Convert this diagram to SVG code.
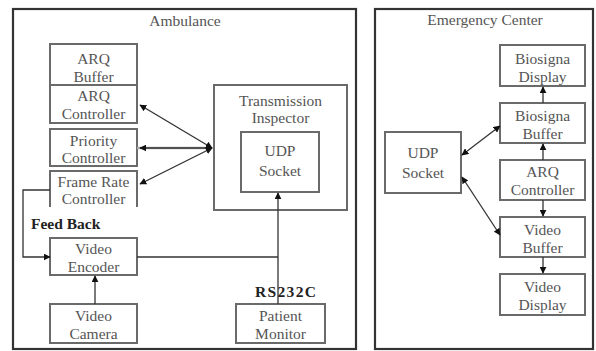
<svg xmlns="http://www.w3.org/2000/svg" width="596" height="351" viewBox="0 0 596 351">
<defs>
<marker id="ah" viewBox="0 0 10 10" refX="9" refY="5" markerWidth="7" markerHeight="7" orient="auto-start-reverse" markerUnits="userSpaceOnUse">
<path d="M0,0 L10,5 L0,10 z" fill="#111"/>
</marker>
<style>
.frame{fill:#fff;stroke:#333;stroke-width:2.2}
.box{fill:#fff;stroke:#6a6a6a;stroke-width:2}
text{font-family:"Liberation Serif","Times New Roman",serif}
.t{font-size:15.5px;fill:#555;text-anchor:middle}
.b{font-size:15.5px;font-weight:bold;fill:#222}
.ln{fill:none;stroke:#333;stroke-width:1.3}
.gl{fill:none;stroke:#aaa;stroke-width:2.5}
</style>
</defs>
<rect width="596" height="351" fill="#fff"/>
<g id="ambulance">
<rect class="frame" x="13" y="9" width="343" height="340"/>
<text class="t" x="185" y="26">Ambulance</text>
</g>
<g id="emergency-center">
<rect class="frame" x="375" y="9" width="218" height="340"/>
<text class="t" x="485" y="25">Emergency Center</text>
</g>
<g id="arq-buffer">
<rect class="box" x="50" y="44" width="87" height="41"/>
<text class="t" x="93.5" y="64">ARQ</text>
<text class="t" x="93.5" y="82">Buffer</text>
</g>
<g id="arq-controller">
<rect class="box" x="50" y="85" width="87" height="38"/>
<text class="t" x="93.5" y="101">ARQ</text>
<text class="t" x="93.5" y="119">Controller</text>
</g>
<g id="priority-controller">
<rect class="box" x="50" y="129" width="87" height="37"/>
<text class="t" x="93.5" y="146">Priority</text>
<text class="t" x="93.5" y="163">Controller</text>
</g>
<g id="frame-rate-controller">
<path class="box" d="M50,207 L50,171 L137,171 L137,207"/>
<text class="t" x="93.5" y="187">Frame Rate</text>
<text class="t" x="93.5" y="204">Controller</text>
</g>
<g id="video-encoder">
<rect class="box" x="50" y="238" width="87" height="37"/>
<text class="t" x="93.5" y="254">Video</text>
<text class="t" x="93.5" y="272">Encoder</text>
</g>
<g id="video-camera">
<rect class="box" x="50" y="304" width="87" height="39"/>
<text class="t" x="93.5" y="321">Video</text>
<text class="t" x="93.5" y="339">Camera</text>
</g>
<g id="transmission-inspector">
<rect class="box" x="214" y="85" width="133" height="125"/>
<text class="t" x="280.5" y="106">Transmission</text>
<text class="t" x="280.5" y="123">Inspector</text>
</g>
<g id="udp-socket-a">
<rect class="box" x="241" y="132" width="78" height="60"/>
<text class="t" x="280" y="156">UDP</text>
<text class="t" x="280" y="176">Socket</text>
</g>
<g id="patient-monitor">
<rect class="box" x="236" y="304" width="89" height="39"/>
<text class="t" x="280.5" y="321">Patient</text>
<text class="t" x="280.5" y="339">Monitor</text>
</g>
<g id="udp-socket-b">
<rect class="box" x="385" y="132" width="76" height="61"/>
<text class="t" x="423" y="158">UDP</text>
<text class="t" x="423" y="178">Socket</text>
</g>
<g id="biosignal-display">
<rect class="box" x="500" y="45" width="85" height="41"/>
<text class="t" x="542.5" y="64">Biosigna</text>
<text class="t" x="542.5" y="82">Display</text>
</g>
<g id="biosignal-buffer">
<rect class="box" x="500" y="103" width="85" height="40"/>
<text class="t" x="542.5" y="121">Biosigna</text>
<text class="t" x="542.5" y="139">Buffer</text>
</g>
<g id="arq-controller-b">
<rect class="box" x="500" y="160" width="85" height="40"/>
<text class="t" x="542.5" y="177">ARQ</text>
<text class="t" x="542.5" y="195">Controller</text>
</g>
<g id="video-buffer">
<rect class="box" x="500" y="217" width="85" height="40"/>
<text class="t" x="542.5" y="235">Video</text>
<text class="t" x="542.5" y="253">Buffer</text>
</g>
<g id="video-display">
<rect class="box" x="500" y="274" width="85" height="41"/>
<text class="t" x="542.5" y="292">Video</text>
<text class="t" x="542.5" y="310">Display</text>
</g>
<g id="connectors">
<line class="gl" x1="137" y1="148" x2="210" y2="148"/>
<line class="ln" x1="140" y1="105" x2="212" y2="148" marker-start="url(#ah)" marker-end="url(#ah)"/>
<line class="ln" x1="140" y1="148" x2="212" y2="148" marker-start="url(#ah)" marker-end="url(#ah)"/>
<line class="ln" x1="140" y1="184" x2="212" y2="148" marker-start="url(#ah)" marker-end="url(#ah)"/>
<path class="ln" d="M50,190 L23,190 L23,257 L50,257" marker-end="url(#ah)"/>
<line class="ln" x1="95" y1="304" x2="95" y2="276" marker-end="url(#ah)"/>
<line class="ln" x1="137" y1="257" x2="278" y2="257"/>
<line class="ln" x1="278" y1="304" x2="278" y2="193" marker-end="url(#ah)"/>
<text class="b" x="31" y="229">Feed Back</text>
<text class="b" x="255" y="297" textLength="61">RS232C</text>
<line class="ln" x1="543" y1="103" x2="543" y2="87" marker-end="url(#ah)"/>
<line class="ln" x1="543" y1="160" x2="543" y2="144" marker-end="url(#ah)"/>
<line class="ln" x1="543" y1="200" x2="543" y2="216" marker-end="url(#ah)"/>
<line class="ln" x1="543" y1="257" x2="543" y2="273" marker-end="url(#ah)"/>
<line class="ln" x1="462" y1="155" x2="500" y2="126" marker-start="url(#ah)" marker-end="url(#ah)"/>
<line class="ln" x1="462" y1="177" x2="500" y2="235" marker-start="url(#ah)" marker-end="url(#ah)"/>
</g>
</svg>
